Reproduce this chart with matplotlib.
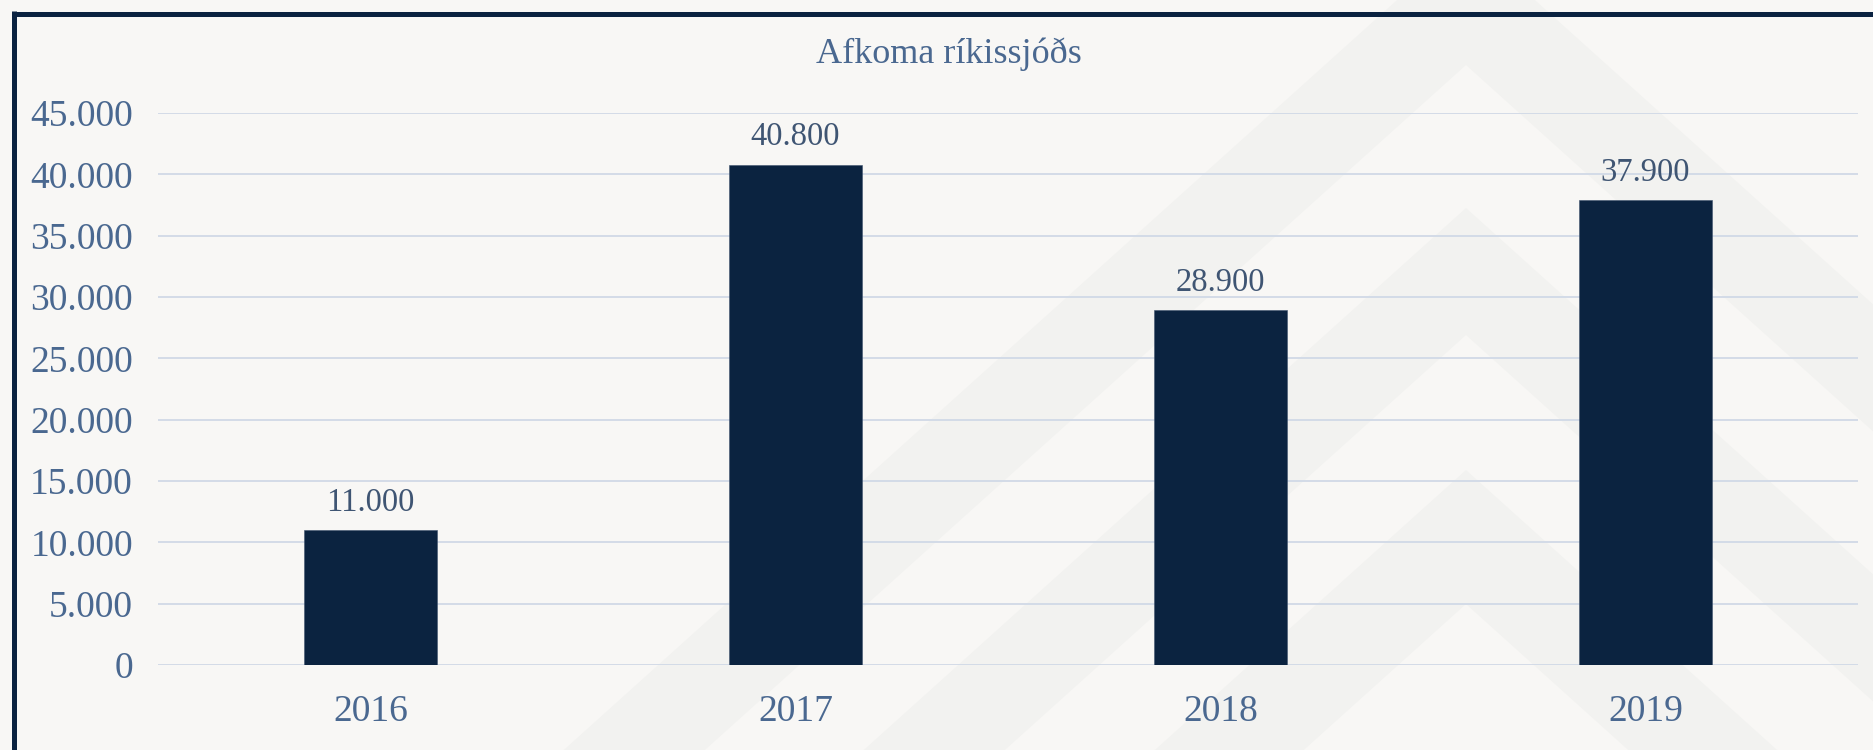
import matplotlib
matplotlib.use("Agg")
import matplotlib.pyplot as plt
from matplotlib.ticker import FuncFormatter, MultipleLocator
from matplotlib.patches import Polygon

# data
years = ["2016", "2017", "2018", "2019"]
values = [11000, 40800, 28900, 37900]
title = "Afkoma ríkissjóðs"

bg = "#F8F7F5"
band = "#F2F2F0"
navy = "#0B2340"
txt = "#4A6890"
lbl = "#3F5573"
grid = "#D3DBE7"

plt.rcParams["font.family"] = ["Liberation Serif", "DejaVu Serif"]

W, H = 1874, 750
fig = plt.figure(figsize=(W / 100, H / 100), dpi=100, facecolor=bg)

# background decoration: nested chevrons, drawn in pixel coords
bga = fig.add_axes([0, 0, 1, 1], zorder=0)
bga.set_xlim(0, W)
bga.set_ylim(H, 0)
bga.axis("off")
slope = 0.9
apex_x = 1466
for i, ay in enumerate([-62, 65, 208, 335, 470, 604]):
    half = (H + 100 - ay) / slope
    col = band if i % 2 == 0 else bg
    bga.add_patch(Polygon([(apex_x, ay), (apex_x - half, H + 100), (apex_x + half, H + 100)],
                          closed=True, facecolor=col, edgecolor="none"))
# dark frame on top and left
bga.plot([12, W], [13.5, 13.5], color="#0A2240", lw=3.6, solid_capstyle="butt")
bga.plot([14, 14], [11, H], color="#0A2240", lw=3.6, solid_capstyle="butt")

# chart
ax = fig.add_axes([158 / W, 85 / H, 1700 / W, 552 / H], zorder=1)
ax.patch.set_alpha(0)
x = range(len(years))
bars = ax.bar(x, values, width=0.315, color=navy, edgecolor="#40536E", linewidth=0.4, zorder=3)
ax.set_xlim(-0.5, len(years) - 0.5)
ax.set_ylim(0, 45000)
ax.yaxis.set_major_locator(MultipleLocator(5000))
ax.yaxis.set_major_formatter(FuncFormatter(lambda v, p: f"{int(v):,}".replace(",", ".")))
ax.set_xticks(list(x))
ax.set_xticklabels(years)
ax.grid(axis="y", color=grid, linewidth=1.4, zorder=0)
ax.set_axisbelow(True)
for s in ax.spines.values():
    s.set_visible(False)
ax.tick_params(axis="y", length=0, pad=18, labelsize=27, labelcolor=txt)
ax.tick_params(axis="x", length=0, pad=21.5, labelsize=27, labelcolor=txt)

for b, v in zip(bars, values):
    ax.annotate(f"{v:,}".replace(",", "."), (b.get_x() + b.get_width() / 2, v),
                xytext=(0, 14), textcoords="offset points", ha="center", va="baseline",
                fontsize=23.5, color=lbl)

fig.text(949 / W, 1 - 54 / H, title, ha="center", va="center", fontsize=26, color=txt)

fig.savefig("out.png", dpi=100, facecolor=bg)
